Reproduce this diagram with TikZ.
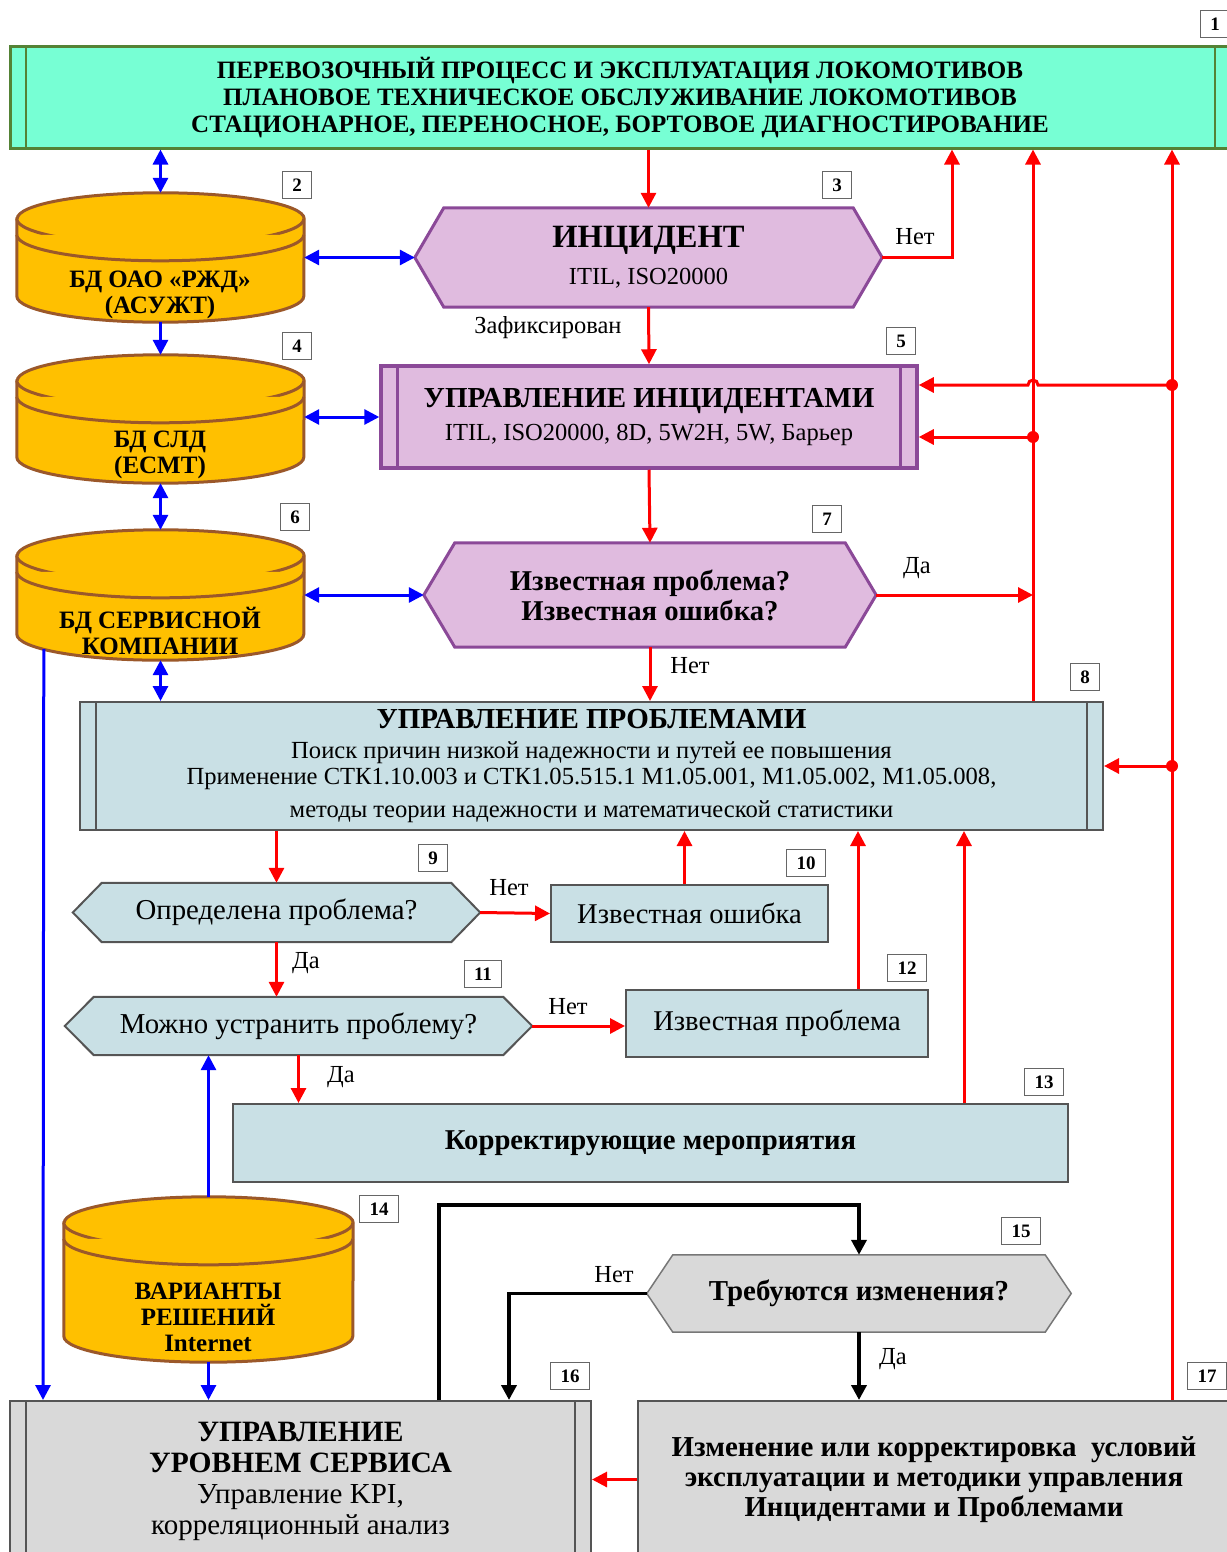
\documentclass[tikz,border=0pt]{standalone}
\usepackage{fontspec}
\setmainfont{Liberation Serif}
\usetikzlibrary{arrows.meta,positioning,backgrounds}

\definecolor{aqua}{RGB}{119,255,212}
\definecolor{aqualine}{RGB}{84,130,53}
\definecolor{lilac}{RGB}{224,187,223}
\definecolor{lilacline}{RGB}{139,73,152}
\definecolor{dbfill}{RGB}{255,192,0}
\definecolor{dbline}{RGB}{155,88,42}
\definecolor{pale}{RGB}{201,224,229}
\definecolor{paleline}{RGB}{85,85,85}
\definecolor{greyfill}{RGB}{217,217,217}
\definecolor{redline}{RGB}{255,0,0}
\definecolor{blueline}{RGB}{0,0,255}

% hexagon behind a named node: node, depth, style
\newcommand{\hexshape}[3]{%
  \filldraw[#3] (#1.west) -- ([xshift=#2]#1.north west) -- ([xshift=-#2]#1.north east)
    -- (#1.east) -- ([xshift=-#2]#1.south east) -- ([xshift=#2]#1.south west) -- cycle;}
% database drum behind a named node: node, x radius
\newcommand{\dbshape}[2]{%
  \filldraw[db] ([yshift=-26pt]#1.north west) -- ([yshift=26pt]#1.south west)
    arc[start angle=180,end angle=360,x radius=#2,y radius=26pt]
    -- ([yshift=-26pt]#1.north east)
    arc[start angle=0,end angle=180,x radius=#2,y radius=26pt] -- cycle;
  \draw[db] ([yshift=-26pt]#1.north west) arc[start angle=180,end angle=360,x radius=#2,y radius=26pt];
  \draw[db] ([yshift=-42pt]#1.north west) arc[start angle=180,end angle=360,x radius=#2,y radius=26pt];}
% side bars of a process box: node, offset, style
\newcommand{\sidebars}[3]{%
  \draw[#3] ([xshift=#2]#1.north west) -- ([xshift=#2]#1.south west);
  \draw[#3] ([xshift=-#2]#1.north east) -- ([xshift=-#2]#1.south east);}
\newcommand{\hd}[2]{{\fontsize{#1}{#1}\selectfont\bfseries #2}}

\begin{document}
\begin{tikzpicture}[x=1pt,y=-1pt,>={Triangle[length=15pt,width=15pt]},
  redarr/.style={->,draw=redline,line width=3pt},
  bluearr/.style={<->,draw=blueline,line width=3pt},
  blueone/.style={->,draw=blueline,line width=3pt},
  blackarr/.style={->,draw=black,line width=3.8pt},
  tag/.style={draw=gray!80!black,fill=white,line width=1pt,font=\fontsize{19}{19}\selectfont\bfseries,
    minimum width=29pt,minimum height=27pt,inner xsep=10pt,inner ysep=0pt},
  lbl/.style={font=\fontsize{24.5}{24.5}\selectfont,inner sep=0pt},
  holder/.style={inner sep=0pt,align=center},
  db/.style={draw=dbline,fill=dbfill,line width=3pt},
  dbtext/.style={align=center,font=\fontsize{25}{26}\selectfont\bfseries,inner sep=0pt},
  lilachex/.style={draw=lilacline,fill=lilac,line width=3pt},
  palehex/.style={draw=paleline,fill=pale,line width=2pt},
  greyhex/.style={draw=paleline!80,fill=greyfill,line width=1.5pt},
  palebox/.style={holder,draw=paleline,fill=pale,line width=2pt},
  greybox/.style={holder,draw=paleline,fill=greyfill,line width=2pt}]
\useasboundingbox (0,0) rectangle (1226,1552);

% main boxes
\node[holder,draw=aqualine,fill=aqua,line width=3pt,minimum width=1220pt,minimum height=101pt,
  font=\fontsize{25}{27}\selectfont\bfseries] (proc) at (620,97.5)
  {ПЕРЕВОЗОЧНЫЙ ПРОЦЕСС И ЭКСПЛУАТАЦИЯ ЛОКОМОТИВОВ\\ПЛАНОВОЕ ТЕХНИЧЕСКОЕ ОБСЛУЖИВАНИЕ ЛОКОМОТИВОВ\\СТАЦИОНАРНОЕ, ПЕРЕНОСНОЕ, БОРТОВОЕ ДИАГНОСТИРОВАНИЕ};
\sidebars{proc}{17pt}{draw=aqualine,line width=2pt}

\node[holder,minimum width=467pt,minimum height=99pt,font=\fontsize{24.5}{37}\selectfont] (incident) at (648.5,257.5)
  {\hd{32.5}{ИНЦИДЕНТ}\\ITIL, ISO20000};

\node[holder,draw=lilacline,fill=lilac,line width=3.5pt,minimum width=536pt,minimum height=102pt,
  font=\fontsize{24.5}{33}\selectfont] (incmgmt) at (649,417)
  {\hd{29}{УПРАВЛЕНИЕ ИНЦИДЕНТАМИ}\\ITIL, ISO20000, 8D, 5W2H, 5W, Барьер};
\sidebars{incmgmt}{18pt}{draw=lilacline,line width=3pt}

\node[holder,minimum width=452pt,minimum height=104pt,font=\fontsize{28.7}{30}\selectfont\bfseries] (known) at (650,595)
  {Известная проблема?\\Известная ошибка?};

\node[palebox,minimum width=1023pt,minimum height=128pt,font=\fontsize{24.6}{28}\selectfont] (probmgmt) at (591.5,766)
  {\hd{29}{УПРАВЛЕНИЕ ПРОБЛЕМАМИ}\\[2pt]
   Поиск причин низкой надежности и путей ее повышения\\[-2pt]
   Применение СТК1.10.003 и СТК1.05.515.1 М1.05.001, М1.05.002, М1.05.008,\\[5pt]
   методы теории надежности и математической статистики};
\sidebars{probmgmt}{17pt}{draw=paleline,line width=2pt}

\node[holder,minimum width=407pt,minimum height=59pt,font=\fontsize{28.8}{28.8}\selectfont] (defined) at (276.5,912.5)
  {Определена проблема?};
\node[palebox,minimum width=277pt,minimum height=57pt,font=\fontsize{28.6}{28.6}\selectfont] (knownerr) at (689.5,913.5)
  {Известная ошибка};
\node[holder,minimum width=467pt,minimum height=58pt,font=\fontsize{28.8}{28.8}\selectfont] (canfix) at (298.5,1026)
  {Можно устранить проблему?};
\node[palebox,minimum width=302pt,minimum height=67pt,font=\fontsize{28.6}{28.6}\selectfont] (knownprob) at (777,1023.5)
  {Известная проблема};
\node[palebox,minimum width=835pt,minimum height=78pt,font=\fontsize{28.7}{28.7}\selectfont\bfseries] (corrective) at (650.5,1143)
  {Корректирующие мероприятия};
\node[holder,minimum width=424pt,minimum height=77pt,font=\fontsize{28.9}{28.9}\selectfont\bfseries] (changes) at (859,1293.5)
  {Требуются изменения?};

\node[greybox,minimum width=581pt,minimum height=160pt,font=\fontsize{29}{31}\selectfont] (slm) at (300.5,1481)
  {\hd{29.5}{УПРАВЛЕНИЕ}\\\hd{29.5}{УРОВНЕМ СЕРВИСА}\\Управление KPI,\\корреляционный анализ};
\sidebars{slm}{17pt}{draw=paleline,line width=2pt}
\node[greybox,minimum width=592pt,minimum height=157pt,font=\fontsize{28.9}{30}\selectfont\bfseries] (adjust) at (934,1479.5)
  {Изменение или корректировка~~условий\\эксплуатации и методики управления\\Инцидентами и Проблемами};

% databases
\node[holder,minimum width=287pt,minimum height=129pt] (dbrzd) at (160.5,257.5) {};
\node[holder,minimum width=287pt,minimum height=128pt] (dbsld) at (160.5,419) {};
\node[holder,minimum width=287pt,minimum height=130pt] (dbserv) at (160.5,595) {};
\node[holder,minimum width=289pt,minimum height=165pt] (dbvar) at (208.5,1279.5) {};

\begin{scope}[on background layer]
  \hexshape{incident}{29pt}{lilachex}
  \hexshape{known}{31pt}{lilachex}
  \hexshape{defined}{29pt}{palehex}
  \hexshape{canfix}{29pt}{palehex}
  \hexshape{changes}{26pt}{greyhex}
  \dbshape{dbrzd}{143.5pt}
  \dbshape{dbsld}{143.5pt}
  \dbshape{dbserv}{143.5pt}
  \dbshape{dbvar}{144.5pt}
\end{scope}

\node[dbtext] at (160,295) {БД ОАО «РЖД»\\(АСУЖТ)};
\node[dbtext] at (160,455) {БД СЛД\\(ЕСМТ)};
\node[dbtext] at (160,631) {БД СЕРВИСНОЙ\\КОМПАНИИ};
\node[dbtext] at (208,1317) {ВАРИАНТЫ\\РЕШЕНИЙ\\Internet};

% number tags
\node[tag] (t1) at (1215,24) {1};
\node[tag] (t2) at (297,185) {2};
\node[tag] (t3) at (837,185) {3};
\node[tag] (t4) at (297,346) {4};
\node[tag] (t5) at (901,341) {5};
\node[tag] (t6) at (295,517) {6};
\node[tag] (t7) at (827,519) {7};
\node[tag] (t8) at (1085,677) {8};
\node[tag] (t9) at (433,858) {9};
\node[tag] (t10) at (806,863) {10};
\node[tag] (t11) at (483,974) {11};
\node[tag] (t12) at (907,968) {12};
\node[tag] (t13) at (1044,1082) {13};
\node[tag] (t14) at (379,1209) {14};
\node[tag] (t15) at (1021,1231) {15};
\node[tag] (t16) at (570,1376) {16};
\node[tag] (t17) at (1207,1376) {17};

% bus lines
\coordinate (netx) at (952,0);
\coordinate (busA) at (1033,0);
\coordinate (busB) at (1172,0);
\coordinate (inA) at ([yshift=-20pt]incmgmt.east);
\coordinate (inB) at ([yshift=32pt]incmgmt.east);

% blue links
\draw[bluearr] (proc.south -| dbrzd.north) -- (dbrzd.north);
\draw[blueone] (dbrzd.south) -- (dbsld.north);
\draw[bluearr] (dbsld.south) -- (dbserv.north);
\draw[bluearr] (dbserv.south) -- (dbserv.south |- probmgmt.north);
\draw[bluearr] (dbrzd.east) -- (incident.west);
\draw[bluearr] (dbsld.east |- incmgmt.west) -- (incmgmt.west);
\draw[bluearr] (dbserv.east) -- (known.west);
\draw[blueone] ([xshift=27pt,yshift=11pt]dbserv.south west) -- ([xshift=34pt]slm.north west);
\draw[blueone] (dbvar.north) -- (dbvar.north |- canfix.south);
\draw[blueone] (dbvar.south) -- (dbvar.south |- slm.north);

% red links
\draw[redarr] (proc.south -| incident.north) -- (incident.north);
\draw[redarr] (incident.east) -| (netx |- proc.south);
\draw[redarr] (incident.south) -- (incmgmt.north);
\draw[redarr] (incmgmt.south) -- (known.north);
\draw[redarr] (known.south) -- (known.south |- probmgmt.north);
\draw[redarr] (known.east) -- (known.east -| busA);
\draw[redarr] (probmgmt.north -| busA) -- (proc.south -| busA);
\draw[redarr] (adjust.north -| busB) -- (proc.south -| busB);
\draw[redarr] (inA -| busA) -- (inA);
\draw[redarr] (inB -| busB) -- ([xshift=5pt]inB -| busA) arc[start angle=0,end angle=180,radius=5pt] -- (inB);
\draw[redarr] (probmgmt.east -| busB) -- (probmgmt.east);
\fill[redline] (inA -| busA) circle (6pt) (inB -| busB) circle (6pt) (probmgmt.east -| busB) circle (6pt);
\draw[redarr] (probmgmt.south -| defined.north) -- (defined.north);
\draw[redarr] (defined.east) -- (knownerr.west);
\draw[redarr] (defined.south) -- (defined.south |- canfix.north);
\draw[redarr] (canfix.east) -- (canfix.east -| knownprob.west);
\draw[redarr] (canfix.south) -- (canfix.south |- corrective.north);
\draw[redarr] ([xshift=-5pt]knownerr.north) -- ([xshift=-5pt]knownerr.north |- probmgmt.south);
\draw[redarr] ([xshift=-71pt]knownprob.north east) -- ([xshift=-71pt]knownprob.north east |- probmgmt.south);
\draw[redarr] ([xshift=-105pt]corrective.north east) -- ([xshift=-105pt]corrective.north east |- probmgmt.south);
\draw[redarr] (adjust.west) -- (adjust.west -| slm.east);

% black links
\draw[blackarr] ([xshift=430pt]slm.north west) |- ([yshift=50pt]changes.north) -- (changes.north);
\draw[blackarr] (changes.west) -| ([xshift=500pt]slm.north west);
\draw[blackarr] (changes.south) -- (changes.south |- adjust.north);

% branch labels
\node[lbl] at (915,237) {Нет};
\node[lbl] at (548,328) {Зафиксирован};
\node[lbl] at (917,568) {Да};
\node[lbl] at (690,666) {Нет};
\node[lbl] at (509,888) {Нет};
\node[lbl] at (306,963) {Да};
\node[lbl] at (568,1007) {Нет};
\node[lbl] at (341,1077) {Да};
\node[lbl] at (614,1275) {Нет};
\node[lbl] at (893,1359) {Да};
\end{tikzpicture}
\end{document}
